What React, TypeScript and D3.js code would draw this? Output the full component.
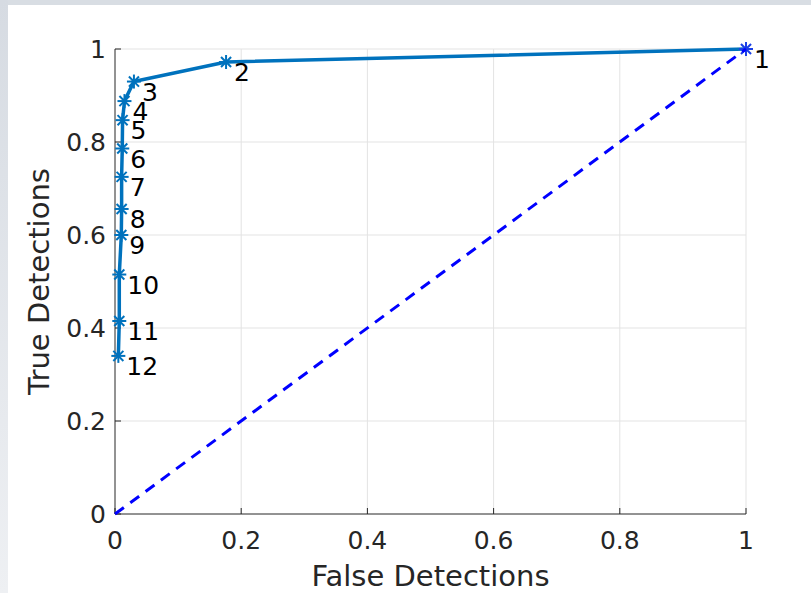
import React from "react";
import * as d3 from "d3";

const falseDet = [1, 0.176, 0.03, 0.015, 0.012, 0.0115, 0.0105, 0.0105, 0.01, 0.0068, 0.0068, 0.0053];
const trueDet = [1, 0.972, 0.93, 0.888, 0.847, 0.786, 0.725, 0.656, 0.6, 0.515, 0.415, 0.34];
const pointLabels = ["1", "2", "3", "4", "5", "6", "7", "8", "9", "10", "11", "12"];
const ticks = [0, 0.2, 0.4, 0.6, 0.8, 1];
const tickLabels = ["0", "0.2", "0.4", "0.6", "0.8", "1"];
const diagonal = [0, 1];

const W = 811, H = 593;
const L = 115, R = 746, T = 49, B = 514;
const FONT = "'DejaVu Sans', sans-serif";
const TXT = "#262626";

export default function App() {
  const x = d3.scaleLinear().domain([0, 1]).range([L, R]);
  const y = d3.scaleLinear().domain([0, 1]).range([B, T]);
  const pts = falseDet.map((f, i) => [f, trueDet[i]] as [number, number]);
  const line = d3.line<[number, number]>().x(d => x(d[0])).y(d => y(d[1]));
  const diag = diagonal.map(v => [v, v] as [number, number]);
  const star = (cx: number, cy: number, r: number, color: string, key: string) => {
    const d = r * 0.72;
    return (
      <g key={key} stroke={color} strokeWidth={2}>
        <line x1={cx - r} y1={cy} x2={cx + r} y2={cy} />
        <line x1={cx} y1={cy - r} x2={cx} y2={cy + r} />
        <line x1={cx - d} y1={cy - d} x2={cx + d} y2={cy + d} />
        <line x1={cx - d} y1={cy + d} x2={cx + d} y2={cy - d} />
      </g>
    );
  };
  return (
    <svg width={W} height={H} style={{ position: "absolute", left: 0, top: 0, display: "block" }}>
      <defs>
        <linearGradient id="lg" x1="0" y1="0" x2="0" y2="1">
          <stop offset="0" stopColor="#d6dbe2" />
          <stop offset="1" stopColor="#eef0f3" />
        </linearGradient>
      </defs>
      <rect x={0} y={0} width={W} height={H} fill="#ffffff" />
      <rect x={0} y={0} width={W} height={5} fill="#d8dde3" />
      <rect x={0} y={0} width={8} height={H} fill="url(#lg)" />
      {ticks.slice(1).map(t => (
        <line key={"gx" + t} x1={x(t)} x2={x(t)} y1={B} y2={T} stroke="#e3e3e3" strokeWidth={1} />
      ))}
      {ticks.slice(1).map(t => (
        <line key={"gy" + t} x1={L} x2={R} y1={y(t)} y2={y(t)} stroke="#e3e3e3" strokeWidth={1} />
      ))}
      <line x1={L} x2={R} y1={B} y2={B} stroke={TXT} strokeWidth={1} />
      <line x1={L} x2={L} y1={B} y2={T} stroke={TXT} strokeWidth={1} />
      {ticks.map(t => (
        <line key={"tx" + t} x1={x(t)} x2={x(t)} y1={B} y2={B - 6} stroke={TXT} strokeWidth={1} />
      ))}
      {ticks.map(t => (
        <line key={"ty" + t} x1={L} x2={L + 6} y1={y(t)} y2={y(t)} stroke={TXT} strokeWidth={1} />
      ))}
      {ticks.map((t, i) => (
        <text key={"lx" + t} x={x(t)} y={549} textAnchor="middle" fontFamily={FONT} fontSize={25} fill={TXT}>
          {tickLabels[i]}
        </text>
      ))}
      {ticks.map((t, i) => (
        <text key={"ly" + t} x={106} y={y(t) + 9} textAnchor="end" fontFamily={FONT} fontSize={25} fill={TXT}>
          {tickLabels[i]}
        </text>
      ))}
      <text x={(L + R) / 2} y={586} textAnchor="middle" fontFamily={FONT} fontSize={29} fill={TXT}>
        False Detections
      </text>
      <text transform={`translate(49,${(T + B) / 2}) rotate(-90)`} textAnchor="middle" fontFamily={FONT} fontSize={29} fill={TXT}>
        True Detections
      </text>
      <path d={line(pts) || ""} fill="none" stroke="#0072BD" strokeWidth={3.5} strokeLinejoin="round" />
      {pts.map((p, i) => star(x(p[0]), y(p[1]), 7, i === 0 ? "#1a3fe6" : "#0072BD", "s" + i))}
      <path d={line(diag) || ""} fill="none" stroke="#0000ff" strokeWidth={3} strokeDasharray="11,8" />
      {pts.map((p, i) => (
        <text key={"pl" + i} x={x(p[0]) + 8} y={y(p[1]) + 19} fontFamily={FONT} fontSize={25} fill="#000">
          {pointLabels[i]}
        </text>
      ))}
    </svg>
  );
}
